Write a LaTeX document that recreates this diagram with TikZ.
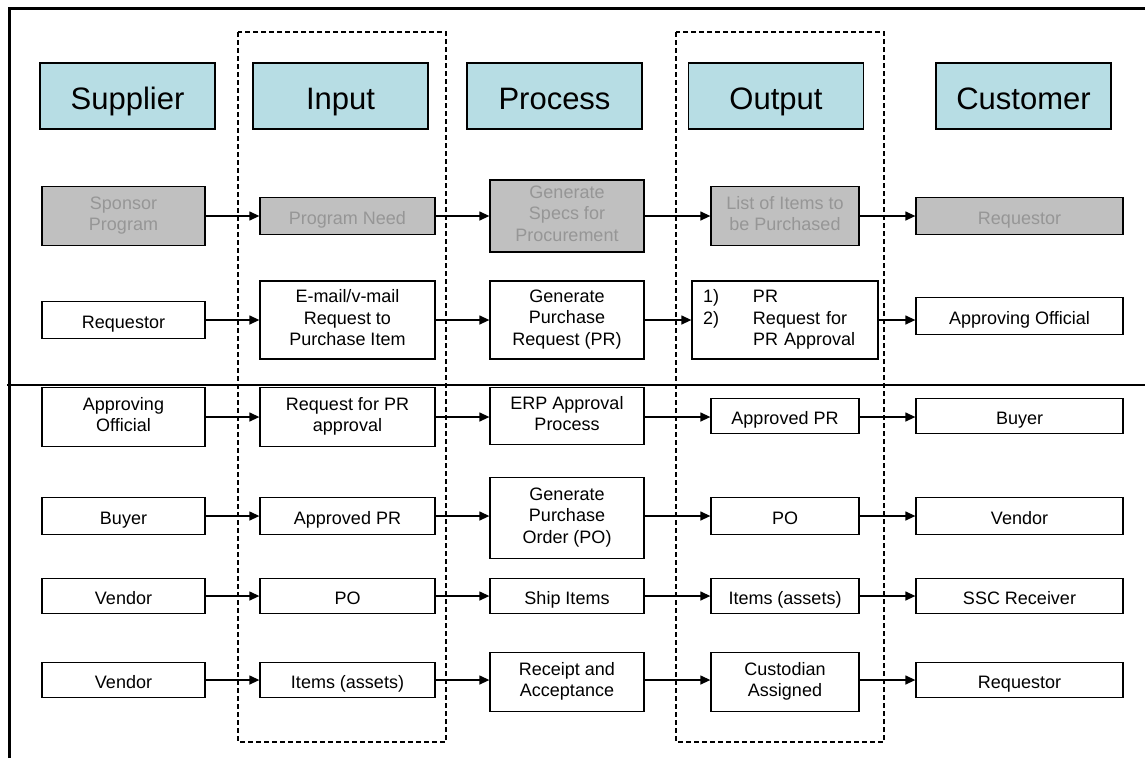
\documentclass[tikz,border=0pt]{standalone}
\usepackage{fontspec}
\setmainfont{Liberation Sans}
\usetikzlibrary{arrows.meta}
\definecolor{hdr}{RGB}{183,221,228}
\definecolor{gfill}{RGB}{192,192,192}
\definecolor{gtext}{RGB}{150,150,150}
\newcommand\hstrut{\rule[-7pt]{0pt}{41.6pt}}
\newcommand\bstrutA{\rule{0pt}{21pt}}
\newcommand\bstrutB{\rule[-5pt]{0pt}{0pt}}
\begin{document}
\begin{tikzpicture}[x=1pt,y=-1pt,
  hdrbox/.style={draw, line width=1.3pt, fill=hdr, minimum width=175pt, minimum height=66pt, inner sep=0pt, font=\fontsize{31}{36}\selectfont, execute at begin node=\hstrut},
  box/.style={draw, line width=1.3pt, fill=white, inner sep=0pt, align=center, font=\fontsize{18}{21.5}\selectfont, execute at begin node=\bstrutA, execute at end node=\bstrutB},
  gbox/.style={box, fill=gfill, text=gtext},
  conn/.style={line width=1.3pt, -{Triangle[length=10pt,width=9pt]}},
  lane/.style={line width=1.2pt, dash pattern=on 5pt off 3pt},
  rule/.style={line width=2pt}]
\def\cS{123.5}\def\cI{347.5}\def\cP{567}\def\cO{785}\def\cC{1019.5}
\def\wS{163pt}\def\wI{175pt}\def\wP{154pt}\def\wO{148pt}\def\wC{207pt}
% canvas
\fill[white] (0,0) rectangle (1145,758);
\useasboundingbox (0,0) rectangle (1145,758);
\draw[line width=3pt] (9,758) -- (9,8) -- (1145,8);
% swimlanes
\draw[lane] (238,32) rectangle (446,742);
\draw[lane] (676,32) rectangle (884,742);
% divider
\draw[rule] (7,385) -- (1145,385);
% headers
\node[hdrbox] (hS) at (127.5,96) {Supplier};
\node[hdrbox] (hI) at (340.5,96) {Input};
\node[hdrbox] (hP) at (554.5,96) {Process};
\node[hdrbox] (hO) at (776,96) {Output};
\node[hdrbox] (hC) at (1023.5,96) {Customer};
% row 1
\node[gbox, minimum width=\wS, minimum height=59pt] (s1) at (\cS,216) {Sponsor\\Program};
\node[gbox, minimum width=\wI, minimum height=37pt] (i1) at (\cI,216) {Program Need};
\node[gbox, minimum width=\wP, minimum height=72pt] (p1) at (\cP,216) {Generate\\Specs for\\Procurement};
\node[gbox, minimum width=\wO, minimum height=59pt] (o1) at (\cO,216) {List of Items to\\be Purchased};
\node[gbox, minimum width=\wC, minimum height=37pt] (c1) at (\cC,216) {Requestor};
% row 2
\node[box, minimum width=\wS, minimum height=37pt] (s2) at (\cS,320) {Requestor};
\node[box, minimum width=\wI, minimum height=78pt] (i2) at (\cI,320) {E-mail/v-mail\\Request to\\Purchase Item};
\node[box, minimum width=\wP, minimum height=78pt] (p2) at (\cP,320) {Generate\\Purchase\\Request (PR)};
\node[draw, line width=1.3pt, fill=white, minimum height=78pt, text width=164pt, inner xsep=11pt, inner ysep=0pt, align=left, font=\fontsize{18}{21.5}\selectfont] (o2) at (\cO,320)
  {\begin{tabular}{@{}p{50pt}@{}l@{}}1) & PR\\ 2) & Request for\\ & PR Approval\end{tabular}};
\node[box, minimum width=\wC, minimum height=37pt] (c2) at (\cC,316) {Approving Official};
% row 3
\node[box, minimum width=\wS, minimum height=59pt] (s3) at (\cS,417) {Approving\\Official};
\node[box, minimum width=\wI, minimum height=59pt] (i3) at (\cI,417) {Request for PR\\approval};
\node[box, minimum width=\wP, minimum height=57pt] (p3) at (\cP,416) {ERP Approval\\Process};
\node[box, minimum width=\wO, minimum height=35pt] (o3) at (\cO,416) {Approved PR};
\node[box, minimum width=\wC, minimum height=35pt] (c3) at (\cC,416) {Buyer};
% row 4
\node[box, minimum width=\wS, minimum height=37pt] (s4) at (\cS,516) {Buyer};
\node[box, minimum width=\wI, minimum height=37pt] (i4) at (\cI,516) {Approved PR};
\node[box, minimum width=\wP, minimum height=81pt] (p4) at (\cP,518) {Generate\\Purchase\\Order (PO)};
\node[box, minimum width=\wO, minimum height=37pt] (o4) at (\cO,516) {PO};
\node[box, minimum width=\wC, minimum height=37pt] (c4) at (\cC,516) {Vendor};
% row 5
\node[box, minimum width=\wS, minimum height=35pt] (s5) at (\cS,596) {Vendor};
\node[box, minimum width=\wI, minimum height=35pt] (i5) at (\cI,596) {PO};
\node[box, minimum width=\wP, minimum height=35pt] (p5) at (\cP,596) {Ship Items};
\node[box, minimum width=\wO, minimum height=35pt] (o5) at (\cO,596) {Items (assets)};
\node[box, minimum width=\wC, minimum height=35pt] (c5) at (\cC,596) {SSC Receiver};
% row 6
\node[box, minimum width=\wS, minimum height=35pt] (s6) at (\cS,680) {Vendor};
\node[box, minimum width=\wI, minimum height=35pt] (i6) at (\cI,680) {Items (assets)};
\node[box, minimum width=\wP, minimum height=59pt] (p6) at (\cP,682) {Receipt and\\Acceptance};
\node[box, minimum width=\wO, minimum height=59pt] (o6) at (\cO,682) {Custodian\\Assigned};
\node[box, minimum width=\wC, minimum height=35pt] (c6) at (\cC,680) {Requestor};
% connectors
\foreach \r in {1,...,6}{
  \draw[conn] (s\r.east |- i\r.west) -- (i\r.west);
  \draw[conn] (i\r.east) -- (p\r.west |- i\r.east);
  \draw[conn] (p\r.east |- i\r.east) -- (o\r.west |- i\r.east);
  \draw[conn] (o\r.east |- i\r.east) -- (c\r.west |- i\r.east);
}
\end{tikzpicture}
\end{document}
